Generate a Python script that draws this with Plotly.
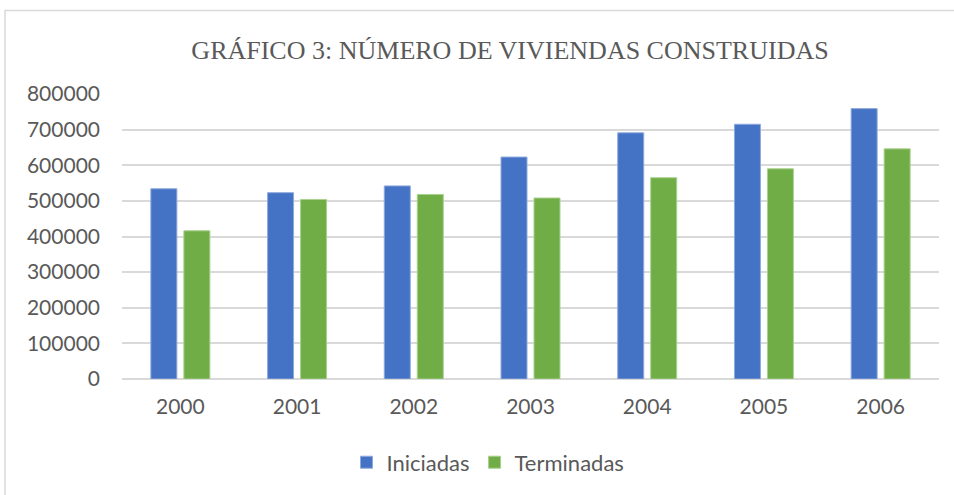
import plotly.graph_objects as go

years = ["2000", "2001", "2002", "2003", "2004", "2005", "2006"]
iniciadas = [534000, 523000, 542000, 623000, 691000, 715000, 759000]
terminadas = [416000, 504000, 518000, 508000, 565000, 590000, 646000]

W, H = 954, 495
ml, mr, mt, mb = 122, 15, 94, 114

fig = go.Figure()
fig.add_trace(go.Bar(x=years, y=iniciadas, name="Iniciadas",
                     marker=dict(color="#4472C4", line=dict(color="#8faadc", width=1))))
fig.add_trace(go.Bar(x=years, y=terminadas, name="Terminadas",
                     marker=dict(color="#70AD47", line=dict(color="#a9d18e", width=1))))

pw = W - ml - mr
ph = H - mt - mb
def px_x(x): return (x - ml) / pw
def px_y(y): return (H - mb - y) / ph

fig.add_shape(type="rect", xref="paper", yref="paper",
              x0=px_x(5), x1=px_x(965), y0=px_y(505), y1=px_y(10),
              line=dict(color="#d9d9d9", width=1.5), layer="below")

fig.update_layout(
    width=W, height=H,
    margin=dict(l=ml, r=mr, t=mt, b=mb),
    paper_bgcolor="white", plot_bgcolor="white",
    barmode="group", bargap=0.4345, bargroupgap=0.212,
    title=dict(text="GRÁFICO 3: NÚMERO DE VIVIENDAS CONSTRUIDAS",
               x=510 / W, xanchor="center", y=1 - 50 / H, yanchor="middle",
               font=dict(family="Liberation Serif", size=26, color="#595959")),
    font=dict(family="Lato", size=21, color="#595959"),
    showlegend=True,
    legend=dict(orientation="h", x=px_x(488), xanchor="center", y=px_y(465), yanchor="middle",
                font=dict(size=22, color="#595959"), itemwidth=30),
    yaxis=dict(range=[0, 800000], dtick=100000, tickformat="d",
               showgrid=True, gridcolor="#d9d9d9", gridwidth=1.5,
               zeroline=True, zerolinecolor="#d9d9d9", zerolinewidth=1.5,
               ticks="", showline=False, ticklabelstandoff=21),
    xaxis=dict(showgrid=False, ticks="", showline=False, ticklabelstandoff=13),
)

fig.write_html("out.html", config={"displayModeBar": False},
               post_script="document.body.style.margin='0px';document.body.style.overflow='hidden';")
